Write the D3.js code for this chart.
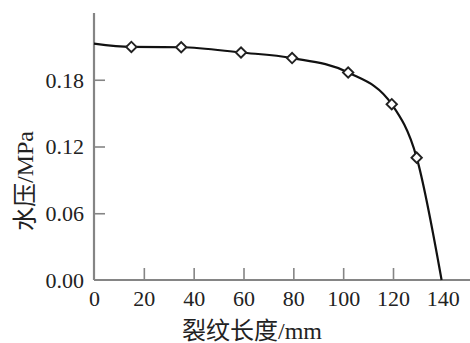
<!DOCTYPE html>
<html>
<head>
<meta charset="utf-8">
<script src="https://cdn.jsdelivr.net/npm/d3@7"></script>
<style>
  body { margin: 0; background: #fff; }
  svg { display: block; }
</style>
</head>
<body>
<figure id="chart" style="margin:0"></figure>
<script>
// crack length (mm) and water pressure (MPa)
const crackLen = [15, 35, 59, 79.5, 102, 119.5, 129.5];
const pressure = [0.2095, 0.2092, 0.2045, 0.1995, 0.1865, 0.158, 0.110];
// curve ends: starts at the axis, reaches zero near 139.5 mm
const curveStart = [0, 0.2125];
const curveEnd = [139.5, 0];
const xTicks = [0, 20, 40, 60, 80, 100, 120, 140];
const yTicks = [0, 0.06, 0.12, 0.18];

const width = 470, height = 343;
const marginLeft = 94, axisBottom = 280, axisTop = 13;
const serif = "serif";
const titleFont = "serif, 'Noto Sans CJK SC'";

const svg = d3.select("#chart").append("svg")
  .attr("width", width)
  .attr("height", height);

const x = d3.scaleLinear().domain([0, 150.5]).range([marginLeft, 469]);
const y = d3.scaleLinear().domain([0, 0.24]).range([axisBottom, axisTop]);

const axisColor = "#858585";

// x axis, ticks pointing up into the plot
const xAxis = svg.append("g")
  .attr("transform", "translate(0," + axisBottom + ")")
  .call(d3.axisBottom(x).tickValues(xTicks).tickSize(0).tickPadding(9)
    .tickFormat(d3.format("d")));
xAxis.attr("font-family", serif).attr("font-size", 22);
xAxis.select(".domain").attr("stroke", axisColor).attr("stroke-width", 2.2)
  .attr("d", "M" + marginLeft + ",0H" + width);
xAxis.selectAll(".tick line").remove();
xAxis.selectAll(".tick")
  .filter(d => d > 0 && d < 140)
  .append("line")
  .attr("y1", 0).attr("y2", -12)
  .attr("stroke", axisColor).attr("stroke-width", 1.6);
xAxis.selectAll(".tick text")
  .style("font-family", serif).attr("fill", "#222").attr("dy", "0.75em");

// y axis, ticks pointing right into the plot
const yAxis = svg.append("g")
  .attr("transform", "translate(" + marginLeft + ",0)")
  .call(d3.axisLeft(y).tickValues(yTicks).tickSize(0).tickPadding(10)
    .tickFormat(d3.format(".2f")));
yAxis.attr("font-family", serif).attr("font-size", 22);
yAxis.select(".domain").attr("stroke", axisColor).attr("stroke-width", 2.2)
  .attr("d", "M0," + axisTop + "V" + axisBottom);
yAxis.selectAll(".tick line").remove();
yAxis.selectAll(".tick")
  .filter(d => d > 0)
  .append("line")
  .attr("x1", 0).attr("x2", 11)
  .attr("stroke", axisColor).attr("stroke-width", 1.6);
yAxis.selectAll(".tick text")
  .style("font-family", serif).attr("fill", "#222").attr("dy", "0.33em");

// axis titles
svg.append("text")
  .attr("x", 252).attr("y", 339)
  .attr("text-anchor", "middle")
  .attr("font-size", 24)
  .attr("fill", "#222")
  .style("font-family", titleFont)
  .text("裂纹长度/mm");

svg.append("text")
  .attr("transform", "translate(33,181) rotate(-90)")
  .attr("text-anchor", "middle")
  .attr("font-size", 24)
  .attr("fill", "#222")
  .style("font-family", titleFont)
  .text("水压/MPa");

// fitted curve
const pts = crackLen.map((d, i) => [d, pressure[i]]);
const linePts = [curveStart].concat(pts, [curveEnd]);

svg.append("path")
  .datum(linePts)
  .attr("fill", "none")
  .attr("stroke", "#111")
  .attr("stroke-width", 2.2)
  .attr("d", d3.line()
    .x(d => x(d[0]))
    .y(d => y(d[1]))
    .curve(d3.curveMonotoneX));

// measured points: open squares turned 45 degrees
svg.selectAll("path.marker")
  .data(pts)
  .enter()
  .append("path")
  .attr("class", "marker")
  .attr("transform", d => "translate(" + x(d[0]) + "," + y(d[1]) + ") rotate(45)")
  .attr("d", d3.symbol().type(d3.symbolSquare).size(54))
  .attr("fill", "#fff")
  .attr("stroke", "#222")
  .attr("stroke-width", 1.9);
</script>
</body>
</html>
